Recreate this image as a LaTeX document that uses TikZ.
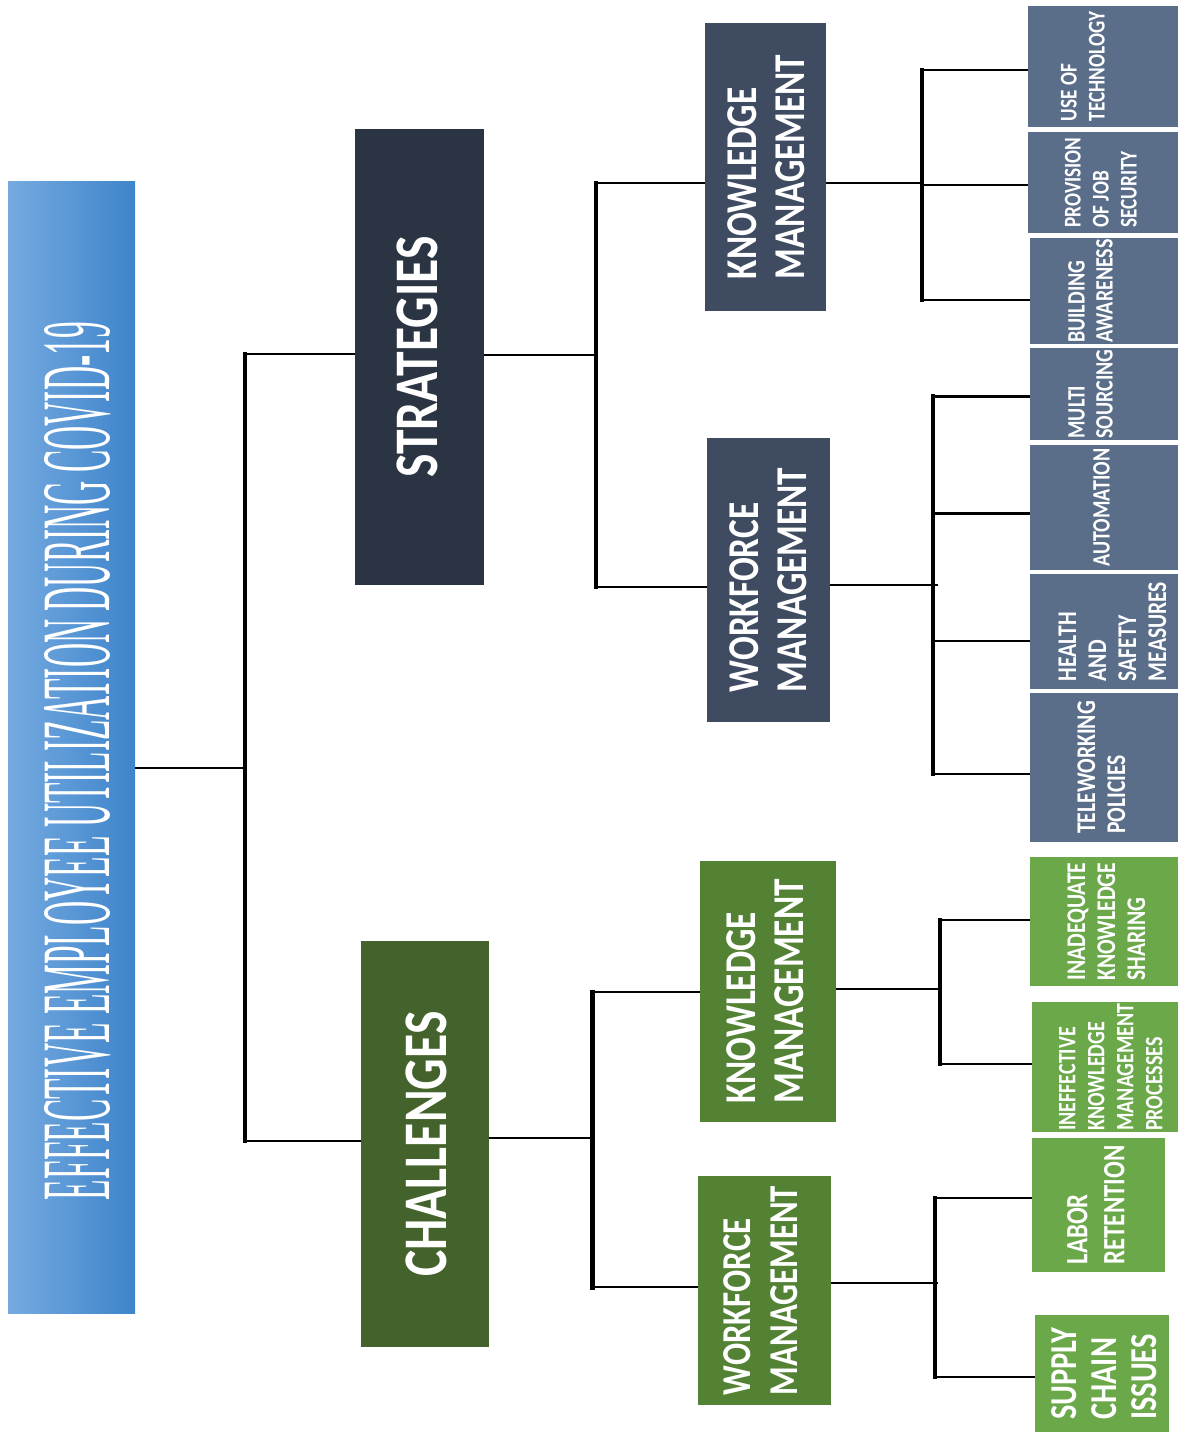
\documentclass[tikz,border=0pt]{standalone}
\usepackage{fontspec}
\setmainfont{Carlito}
\newfontfamily\boxfont[FakeStretch=0.8]{Carlito}
\newfontfamily\rootfont{Liberation Serif}
\definecolor{rootL}{HTML}{76AAE0}
\definecolor{rootR}{HTML}{3D84CB}
\definecolor{sTop}{HTML}{2B3442}
\definecolor{sMid}{HTML}{3E4B61}
\definecolor{sLeaf}{HTML}{5A6D89}
\definecolor{cTop}{HTML}{44622B}
\definecolor{cMid}{HTML}{548235}
\definecolor{cLeaf}{HTML}{6AA84A}
% #1 = shift to the right (pt, may be negative), #2 size, #3 line skip, #4 lines
\newcommand\vlab[4][0pt]{\rotatebox{90}{\fontsize{#2}{#3}\selectfont
  \setbox0\hbox{\begin{tabular}{@{}l@{}}#4\end{tabular}}%
  \dimen0=#1\relax
  \ifdim\dimen0>0pt \vbox{\kern2\dimen0\box0}\else\vtop{\box0\kern-2\dimen0}\fi}}
\begin{document}
\begin{tikzpicture}[x=1pt,y=-1pt,
  bx/.style={rectangle, inner sep=0pt, outer sep=0pt, text=white, font=\boxfont\bfseries},
  conn/.style={line width=2pt, black},
  thickconn/.style={line width=3pt, black},
  bus/.style={line width=3.5pt, black, line cap=rect},
  bigbus/.style={line width=5pt, black, line cap=rect}]
\useasboundingbox (0,0) rectangle (1180,1435);

% root
\node[rectangle, inner sep=0pt, outer sep=0pt, left color=rootL, right color=rootR,
      minimum width=127pt, minimum height=1132pt] (root) at (71.5,747) {};
\node[inner sep=0pt, text=white] (roottxt) at (77.5,761)
  {\rotatebox{90}{\resizebox{878pt}{65pt}{\rootfont EFFECTIVE EMPLOYEE UTILIZATION DURING COVID-19}}};

% level 1
\node[bx, fill=sTop, minimum width=129pt, minimum height=456pt] (strat) at (419.5,357)
  {\vlab[4pt]{62}{70}{STRATEGIES}};
\node[bx, fill=cTop, minimum width=128pt, minimum height=406pt] (chal) at (425,1144)
  {\vlab[7pt]{62}{70}{CHALLENGES}};

% level 2
\node[bx, fill=sMid, minimum width=121pt, minimum height=288pt] (skm) at (765.5,167)
  {\vlab[5pt]{44}{48}{KNOWLEDGE\\MANAGEMENT}};
\node[bx, fill=sMid, minimum width=123pt, minimum height=284pt] (swm) at (768.5,580)
  {\vlab[4pt]{44}{48}{WORKFORCE\\MANAGEMENT}};
\node[bx, fill=cMid, minimum width=136pt, minimum height=261pt] (ckm) at (768,991.5)
  {\vlab[2pt]{44}{48}{KNOWLEDGE\\MANAGEMENT}};
\node[bx, fill=cMid, minimum width=133pt, minimum height=229pt] (cwm) at (764.5,1290.5)
  {\vlab{41}{47}{WORKFORCE\\MANAGEMENT}};

% leaves (strategies)
\node[bx, fill=sLeaf, minimum width=150pt, minimum height=121pt] (l1) at (1103,66.5)
  {\vlab[-18pt]{24}{28}{USE OF\\TECHNOLOGY}};
\node[bx, fill=sLeaf, minimum width=150pt, minimum height=101pt] (l2) at (1103,182.5)
  {\vlab{24}{28}{PROVISION\\OF JOB\\SECURITY}};
\node[bx, fill=sLeaf, minimum width=148pt, minimum height=106pt] (l3) at (1104,291)
  {\vlab[-11pt]{25}{28}{BUILDING\\AWARENESS}};
\node[bx, fill=sLeaf, minimum width=148pt, minimum height=92pt] (l4) at (1104,394)
  {\vlab[-11pt]{25}{28}{MULTI\\SOURCING}};
\node[bx, fill=sLeaf, minimum width=148pt, minimum height=125pt] (l5) at (1104,507.5)
  {\vlab{25}{28}{AUTOMATION}};
\node[bx, fill=sLeaf, minimum width=148pt, minimum height=115pt] (l6) at (1104,631.5)
  {\vlab[11pt]{27}{30}{HEALTH\\AND\\SAFETY\\MEASURES}};
\node[bx, fill=sLeaf, minimum width=148pt, minimum height=149pt] (l7) at (1104,767.5)
  {\vlab{27}{30}{TELEWORKING\\POLICIES}};

% leaves (challenges)
\node[bx, fill=cLeaf, minimum width=148pt, minimum height=129pt] (g1) at (1104,921.5)
  {\vlab[5pt]{27}{30}{INADEQUATE\\KNOWLEDGE\\SHARING}};
\node[bx, fill=cLeaf, minimum width=146pt, minimum height=130pt] (g2) at (1105,1067)
  {\vlab[8pt]{25}{29}{INEFFECTIVE\\KNOWLEDGE\\MANAGEMENT\\PROCESSES}};
\node[bx, fill=cLeaf, minimum width=133pt, minimum height=134pt] (g3) at (1098.5,1205)
  {\vlab{31}{37}{LABOR\\RETENTION}};
\node[bx, fill=cLeaf, minimum width=133pt, minimum height=117pt] (g4) at (1101.5,1373.5)
  {\vlab[7pt]{38}{40}{SUPPLY\\CHAIN\\ISSUES}};

% junction coordinates
\coordinate (rb) at (245,768);
\coordinate (rbS) at (245,354);
\coordinate (rbC) at (245,1141);
\coordinate (sb) at (596,355);
\coordinate (sb1) at (596,183);
\coordinate (sb2) at (596,587);
\coordinate (cb) at (592,1138);
\coordinate (cb1) at (592,992);
\coordinate (cb2) at (592,1287);
\coordinate (kb) at (922,183);
\coordinate (kb1) at (922,70);
\coordinate (kb2) at (922,185);
\coordinate (kb3) at (922,300);
\coordinate (wb) at (933,585);
\coordinate (wb1) at (933,396);
\coordinate (wb2) at (933,513);
\coordinate (wb3) at (933,641);
\coordinate (wb4) at (933,774);
\coordinate (gb) at (940,989);
\coordinate (gb1) at (940,920);
\coordinate (gb2) at (940,1064);
\coordinate (hb) at (935,1283);
\coordinate (hb1) at (935,1198);
\coordinate (hb2) at (935,1377);

% root connectors
\draw[conn] (root.east |- rb) -- (rb);
\draw[bus] (rbS) -- (rbC);
\draw[conn] (rbS) -- (strat.west |- rbS);
\draw[conn] (rbC) -- (chal.west |- rbC);

% strategies connectors
\draw[conn] (strat.east |- sb) -- (sb);
\draw[bus] (sb1) -- (sb2);
\draw[conn] (sb1) -- (skm.west |- sb1);
\draw[conn] (sb2) -- (swm.west |- sb2);

% challenges connectors
\draw[conn] (chal.east |- cb) -- (cb);
\draw[bigbus] (cb1) -- (cb2);
\draw[conn] (cb1) -- (ckm.west |- cb1);
\draw[conn] (cb2) -- (cwm.west |- cb2);

% strategies KM leaves
\draw[conn] (skm.east |- kb) -- (kb);
\draw[bus] (kb1) -- (kb3);
\draw[conn] (kb1) -- (l1.west |- kb1);
\draw[conn] (kb2) -- (l2.west |- kb2);
\draw[conn] (kb3) -- (l3.west |- kb3);

% strategies WM leaves
\draw[conn] (swm.east |- wb) -- ([xshift=5pt]wb);
\draw[bus] (wb1) -- (wb4);
\draw[thickconn] (wb1) -- (l4.west |- wb1);
\draw[thickconn] (wb2) -- (l5.west |- wb2);
\draw[conn] (wb3) -- (l6.west |- wb3);
\draw[conn] (wb4) -- (l7.west |- wb4);

% challenges KM leaves
\draw[conn] (ckm.east |- gb) -- (gb);
\draw[bus] (gb1) -- (gb2);
\draw[conn] (gb1) -- (g1.west |- gb1);
\draw[conn] (gb2) -- (g2.west |- gb2);

% challenges WM leaves
\draw[conn] (cwm.east |- hb) -- ([xshift=3pt]hb);
\draw[bus] (hb1) -- (hb2);
\draw[conn] (hb1) -- (g3.west |- hb1);
\draw[conn] (hb2) -- (g4.west |- hb2);
\end{tikzpicture}
\end{document}
